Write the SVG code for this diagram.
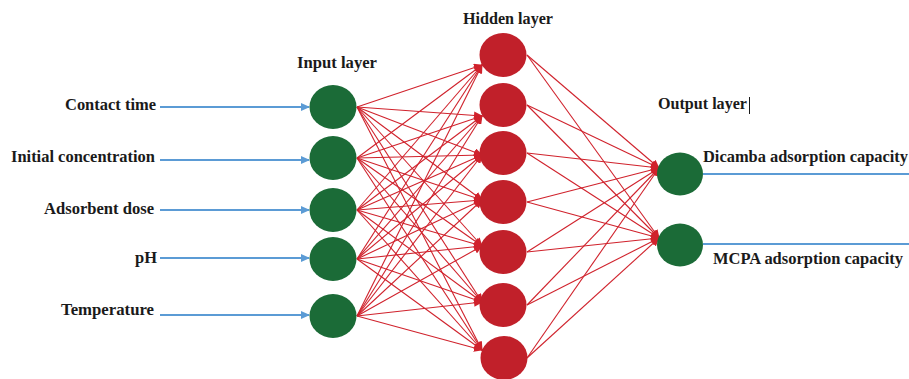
<svg xmlns="http://www.w3.org/2000/svg" width="909" height="379" viewBox="0 0 909 379">
<style>
text{font-family:"Liberation Serif","Times New Roman",serif;font-weight:bold;font-size:16px;fill:#1a1a1a}
.in{fill:#1b6b37}
.hid{fill:#c1202a}
.e{stroke:#d0222c;stroke-width:1.1;fill:none;marker-end:url(#ra)}
.b{stroke:#5b9bd5;stroke-width:2.2;fill:none}
.ba{marker-end:url(#ba)}
</style>
<defs>
<marker id="ra" markerUnits="userSpaceOnUse" markerWidth="9" markerHeight="8" refX="8" refY="4" orient="auto"><path d="M0,0 L9,4 L0,8 Z" fill="#d0222c"/></marker>
<marker id="ba" markerUnits="userSpaceOnUse" markerWidth="9" markerHeight="8" refX="8" refY="4" orient="auto"><path d="M0,0 L9,4 L0,8 Z" fill="#5b9bd5"/></marker>
</defs>
<rect width="909" height="379" fill="#fff"/>
<g id="connectors">
<line class="b ba" x1="160" y1="107" x2="309" y2="107"/>
<line class="b ba" x1="160" y1="160" x2="309" y2="160"/>
<line class="b ba" x1="160" y1="210" x2="309" y2="210"/>
<line class="b ba" x1="160" y1="258" x2="309" y2="258"/>
<line class="b ba" x1="160" y1="315" x2="309" y2="315"/>
<line class="b" x1="703" y1="174" x2="909" y2="174"/>
<line class="b" x1="703" y1="244" x2="909" y2="244"/>
<g id="input-hidden">
<path class="e" d="M357,107 L482,65"/><path class="e" d="M357,107 L482,116"/><path class="e" d="M357,107 L482,155"/><path class="e" d="M357,107 L482,200"/><path class="e" d="M357,107 L482,246"/><path class="e" d="M357,107 L482,302"/><path class="e" d="M357,107 L482,350"/>
<path class="e" d="M357,158 L482,65"/><path class="e" d="M357,158 L482,116"/><path class="e" d="M357,158 L482,155"/><path class="e" d="M357,158 L482,200"/><path class="e" d="M357,158 L482,246"/><path class="e" d="M357,158 L482,302"/><path class="e" d="M357,158 L482,350"/>
<path class="e" d="M357,210 L482,65"/><path class="e" d="M357,210 L482,116"/><path class="e" d="M357,210 L482,155"/><path class="e" d="M357,210 L482,200"/><path class="e" d="M357,210 L482,246"/><path class="e" d="M357,210 L482,302"/><path class="e" d="M357,210 L482,350"/>
<path class="e" d="M357,259 L482,65"/><path class="e" d="M357,259 L482,116"/><path class="e" d="M357,259 L482,155"/><path class="e" d="M357,259 L482,200"/><path class="e" d="M357,259 L482,246"/><path class="e" d="M357,259 L482,302"/><path class="e" d="M357,259 L482,350"/>
<path class="e" d="M357,316 L482,65"/><path class="e" d="M357,316 L482,116"/><path class="e" d="M357,316 L482,155"/><path class="e" d="M357,316 L482,200"/><path class="e" d="M357,316 L482,246"/><path class="e" d="M357,316 L482,302"/><path class="e" d="M357,316 L482,350"/>
</g>
<g id="hidden-output">
<path class="e" d="M527,55 L659,168"/><path class="e" d="M527,55 L659,238"/>
<path class="e" d="M527,105 L659,168"/><path class="e" d="M527,105 L659,238"/>
<path class="e" d="M527,153 L659,168"/><path class="e" d="M527,153 L659,238"/>
<path class="e" d="M527,202 L659,168"/><path class="e" d="M527,202 L659,238"/>
<path class="e" d="M527,252 L659,168"/><path class="e" d="M527,252 L659,238"/>
<path class="e" d="M527,305 L659,168"/><path class="e" d="M527,305 L659,238"/>
<path class="e" d="M527,358 L659,168"/><path class="e" d="M527,358 L659,238"/>
</g>
</g>
<g id="input1"><ellipse class="in" cx="333" cy="107" rx="23.5" ry="22"/></g>
<g id="input2"><ellipse class="in" cx="333" cy="158" rx="23.5" ry="22"/></g>
<g id="input3"><ellipse class="in" cx="333" cy="210" rx="23.5" ry="22"/></g>
<g id="input4"><ellipse class="in" cx="333" cy="259" rx="23.5" ry="22"/></g>
<g id="input5"><ellipse class="in" cx="333" cy="316" rx="23.5" ry="22"/></g>
<g id="hidden1"><ellipse class="hid" cx="503" cy="55" rx="23.5" ry="22"/></g>
<g id="hidden2"><ellipse class="hid" cx="503" cy="105" rx="23.5" ry="22"/></g>
<g id="hidden3"><ellipse class="hid" cx="503" cy="153" rx="23.5" ry="22"/></g>
<g id="hidden4"><ellipse class="hid" cx="503" cy="202" rx="23.5" ry="22"/></g>
<g id="hidden5"><ellipse class="hid" cx="503" cy="252" rx="23.5" ry="22"/></g>
<g id="hidden6"><ellipse class="hid" cx="503" cy="305" rx="23.5" ry="22"/></g>
<g id="hidden7"><ellipse class="hid" cx="504" cy="358" rx="23.5" ry="22"/></g>
<g id="output1"><ellipse class="in" cx="680" cy="174" rx="23" ry="21.5"/></g>
<g id="output2"><ellipse class="in" cx="680" cy="245" rx="23" ry="21.5"/></g>
<g id="labels">
<text x="65" y="110" textLength="91" lengthAdjust="spacingAndGlyphs">Contact time</text>
<text x="11" y="162" textLength="144" lengthAdjust="spacingAndGlyphs">Initial concentration</text>
<text x="44" y="214" textLength="110" lengthAdjust="spacingAndGlyphs">Adsorbent dose</text>
<text x="135" y="263" textLength="22" lengthAdjust="spacingAndGlyphs">pH</text>
<text x="61" y="315" textLength="93" lengthAdjust="spacingAndGlyphs">Temperature</text>
<text x="297" y="68" textLength="80" lengthAdjust="spacingAndGlyphs">Input layer</text>
<text x="463" y="24" textLength="90" lengthAdjust="spacingAndGlyphs">Hidden layer</text>
<text x="658" y="109" textLength="89" lengthAdjust="spacingAndGlyphs">Output layer</text>
<line x1="749.5" y1="97" x2="749.5" y2="114" stroke="#1a1a1a" stroke-width="1"/>
<text x="703" y="162" textLength="205" lengthAdjust="spacingAndGlyphs">Dicamba adsorption capacity</text>
<text x="713" y="264" textLength="190" lengthAdjust="spacingAndGlyphs">MCPA adsorption capacity</text>
</g>
</svg>
